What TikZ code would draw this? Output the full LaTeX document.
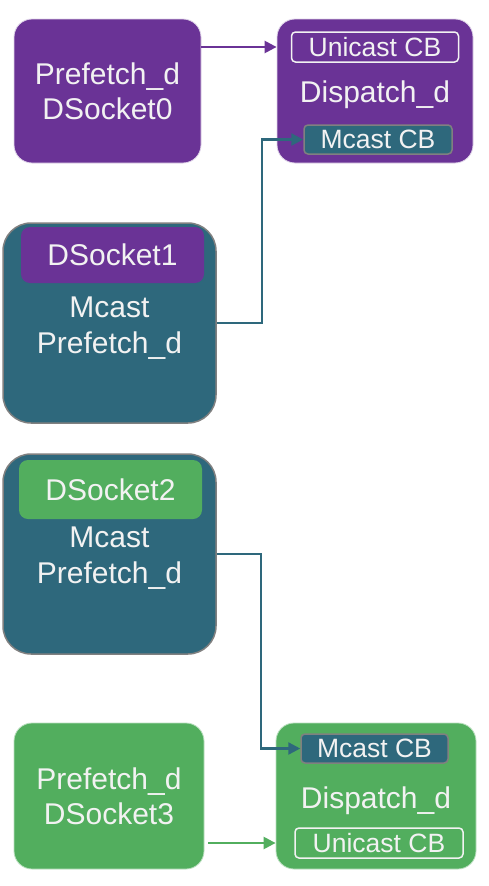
\documentclass[tikz,border=0pt]{standalone}
\usepackage{fontspec}
\setmainfont{Liberation Sans}
\usetikzlibrary{arrows.meta}
\definecolor{cpurple}{RGB}{106,51,150}
\definecolor{cteal}{RGB}{46,104,124}
\definecolor{cgreen}{RGB}{82,174,94}
\definecolor{cborder}{RGB}{128,128,128}
\definecolor{ctext}{RGB}{242,242,242}
\tikzset{
  big/.style={rectangle, rounded corners=18pt, inner sep=0pt, text=ctext, align=center,
    font=\fontsize{30}{35}\selectfont},
  pbox/.style={big, fill=cpurple, draw=cpurple!20!white, line width=0.8pt},
  gbox/.style={big, fill=cgreen, draw=cgreen!40!white, line width=0.8pt},
  tbox/.style={big, fill=cteal, draw=cborder, line width=1.5pt, rounded corners=28pt},
  tag/.style={rectangle, rounded corners=9pt, inner sep=0pt, text=ctext,
    font=\fontsize{30}{35}\selectfont},
  cb/.style={rectangle, rounded corners=4pt, inner sep=0pt, text=ctext,
    font=\fontsize{26.5}{30}\selectfont},
  lbl/.style={text=ctext, align=center, inner sep=0pt, font=\fontsize{30}{36}\selectfont},
  arr/.style={line width=2.4pt, -{Triangle[length=12pt,width=12pt]}},
}
\begin{document}
\begin{tikzpicture}[x=1pt,y=-1pt]
\useasboundingbox[fill=white] (0,0) rectangle (488,886);
% top pair
\node[pbox, minimum width=187pt, minimum height=144pt] (A) at (107.5,91) {Prefetch\_d\\DSocket0};
\node[pbox, minimum width=196pt, minimum height=144pt] (B) at (375,91) {};
\node[lbl] (Btxt) at (375,95) {Dispatch\_d};
\node[cb, draw=ctext, line width=1.5pt, fill=cpurple, minimum width=167pt, minimum height=30pt] (UT) at (375,47) {Unicast CB};
\node[cb, draw=cborder, line width=1.5pt, fill=cteal, minimum width=148pt, minimum height=29pt] (MT) at (378,139.5) {Mcast CB};
% middle boxes
\node[tbox, minimum width=213pt, minimum height=200pt] (C) at (109.5,323) {};
\node[tag, fill=cpurple, minimum width=183pt, minimum height=56pt] (DS1) at (112.5,255) {DSocket1};
\node[lbl] (Ctxt) at (109.5,328) {Mcast\\Prefetch\_d};
\node[tbox, minimum width=213pt, minimum height=200pt] (D) at (109.5,554) {};
\node[tag, fill=cgreen, minimum width=183pt, minimum height=59pt] (DS2) at (110.5,489.5) {DSocket2};
\node[lbl] (Dtxt) at (109.5,558) {Mcast\\Prefetch\_d};
% bottom pair
\node[gbox, minimum width=190pt, minimum height=146pt] (E) at (109,796) {Prefetch\_d\\DSocket3};
\node[gbox, minimum width=200pt, minimum height=146pt] (F) at (376,796) {};
\node[lbl] (Ftxt) at (376,801) {Dispatch\_d};
\node[cb, draw=cborder, line width=1.5pt, fill=cteal, minimum width=147pt, minimum height=29pt] (MB) at (374.5,748.5) {Mcast CB};
\node[cb, draw=ctext, line width=1.5pt, fill=cgreen, minimum width=168pt, minimum height=30pt] (UB) at (379,843) {Unicast CB};
% connectors
\draw[arr, draw=cpurple] (UT -| A.east) -- (UT -| B.west);
\draw[arr, draw=cteal] (C.east) -- ++(45,0) |- (MT.west);
\draw[arr, draw=cteal] (D.east) -- ++(44,0) |- (MB.west);
\draw[arr, draw=cgreen] ([xshift=4pt]E.east |- UB) -- (UB -| F.west);
\end{tikzpicture}
\end{document}
